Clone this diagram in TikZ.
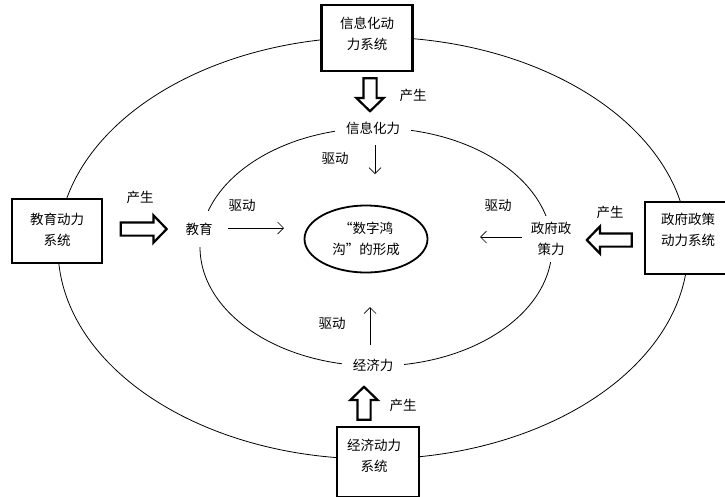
\documentclass[tikz,border=0pt]{standalone}
\usepackage{fontspec}
\setmainfont{Noto Sans CJK SC}
\usetikzlibrary{shapes.geometric,shapes.arrows,arrows.meta}
\tikzset{
  ring/.style={draw=black, line width=0.8pt},
  sysbox/.style={draw=black, line width=2.6pt, fill=white, inner sep=0pt},
  boxtext/.style={align=center, inner sep=0pt},
  forcelabel/.style={fill=white, align=center, inner sep=4pt},
  lbl/.style={inner sep=0pt},
  center/.style={ellipse, draw=black, line width=1.8pt, fill=white, align=center, minimum width=123pt, minimum height=67pt, inner sep=0pt},
  blockarrow/.style={single arrow, draw=black, line width=2.2pt, fill=white, inner sep=5.5pt, single arrow head extend=7pt, single arrow tip angle=92, single arrow head indent=0pt},
  thinarrow/.style={draw=black, line width=0.7pt, -{Straight Barb[length=6pt,width=12pt]}}
}
\begin{document}
\begin{tikzpicture}[x=1pt,y=-1pt, font=\fontsize{13.5}{21}\selectfont]
\useasboundingbox (0,0) rectangle (725,496);
% rings
\draw[ring] (373,248) ellipse [x radius=315, y radius=211];
\draw[ring] (376,247) ellipse [x radius=176, y radius=119];
% central node
\node[center] (gap) at (366,239) {“数字鸿\\沟”的形成};
% forces on inner ring
\node[forcelabel, inner xsep=11pt, inner ysep=3pt] (info) at (373,128) {信息化力};
\node[forcelabel, inner ysep=12pt] (edu) at (199,229) {教育};
\node[forcelabel, inner ysep=6pt] (gov) at (551,239) {政府政\\策力};
\node[forcelabel, inner xsep=11pt, inner ysep=3pt] (econ) at (373,365) {经济力};
% system boxes
\node[sysbox, minimum width=91pt, minimum height=66pt] (topbox) at (367,38) {};
\node[boxtext] (toptext) at (367,34) {信息化动\\力系统};
\node[sysbox, minimum width=90pt, minimum height=64pt] (leftbox) at (57,231) {};
\node[boxtext] (lefttext) at (57,229.5) {教育动力\\系统};
\node[sysbox, minimum width=86pt, minimum height=72pt] (rightbox) at (688,238) {};
\node[boxtext] (righttext) at (688,230) {政府政策\\动力系统};
\node[sysbox, minimum width=82pt, minimum height=70pt] (botbox) at (378,462) {};
\node[boxtext] (bottext) at (374,456) {经济动力\\系统};
% block arrows (produce)
\node[blockarrow, minimum height=33pt, rotate=-90] (topba) at (370,91.5) {};
\node[blockarrow, minimum height=46pt] (leftba) at (140.5,229) {};
\node[blockarrow, minimum height=45pt, rotate=180] (rightba) at (612.5,240) {};
\node[blockarrow, minimum height=33pt, rotate=90] (botba) at (364,406.5) {};
\node[lbl] (ptop) at (413,95) {产生};
\node[lbl] (pleft) at (140,197) {产生};
\node[lbl] (pright) at (610,212) {产生};
\node[lbl] (pbot) at (403,405) {产生};
% drive arrows
\coordinate (t1) at (375,145); \coordinate (t2) at (375,174);
\coordinate (l1) at (228,228); \coordinate (l2) at (284,228);
\coordinate (r1) at (522,237); \coordinate (r2) at (480,237);
\coordinate (b1) at (370,345); \coordinate (b2) at (370,307);
\draw[thinarrow] (t1) -- (t2);
\draw[thinarrow] (l1) -- (l2);
\draw[thinarrow] (r1) -- (r2);
\draw[thinarrow] (b1) -- (b2);
\node[lbl] (dtop) at (335,158) {驱动};
\node[lbl] (dleft) at (242,205) {驱动};
\node[lbl] (dright) at (498,205) {驱动};
\node[lbl] (dbot) at (332,323) {驱动};
\end{tikzpicture}
\end{document}
